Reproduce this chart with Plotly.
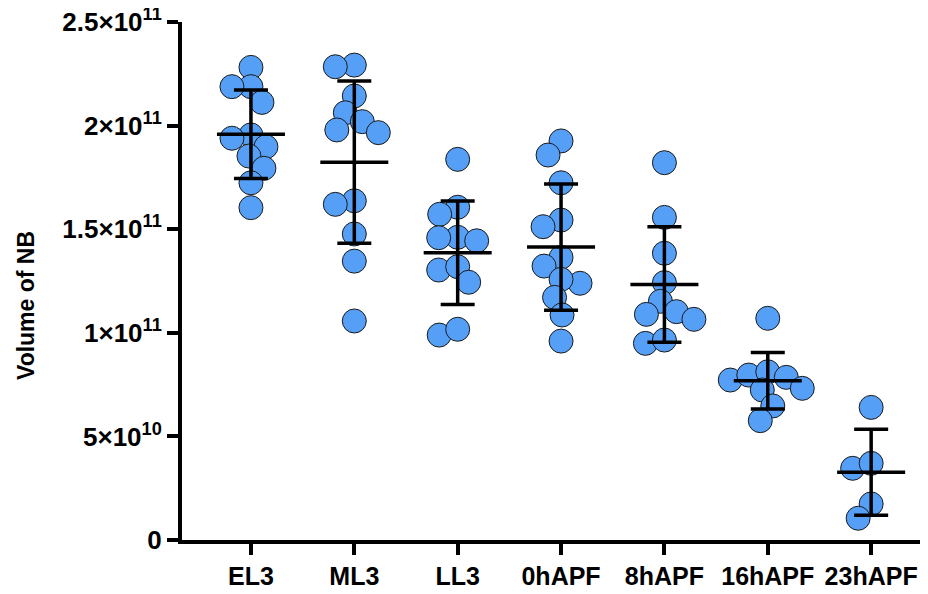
import numpy as np
import plotly.graph_objects as go

# ---------------- data ----------------
categories = ["EL3", "ML3", "LL3", "0hAPF", "8hAPF", "16hAPF", "23hAPF"]

el3 = [2.281e11, 2.188e11, 2.188e11, 2.112e11, 1.955e11, 1.939e11,
       1.898e11, 1.853e11, 1.794e11, 1.724e11, 1.604e11]
ml3 = [2.292e11, 2.284e11, 2.143e11, 2.062e11, 2.019e11, 1.966e11,
       1.979e11, 1.637e11, 1.620e11, 1.477e11, 1.346e11, 1.057e11]
ll3 = [1.837e11, 1.606e11, 1.572e11, 1.461e11, 1.444e11, 1.459e11,
       1.303e11, 1.319e11, 1.244e11, 0.989e11, 1.017e11]
h0 = [1.926e11, 1.858e11, 1.724e11, 1.544e11, 1.512e11, 1.364e11,
      1.322e11, 1.239e11, 1.258e11, 1.171e11, 1.086e11, 0.960e11]
h8 = [1.821e11, 1.557e11, 1.384e11, 1.242e11, 1.152e11, 1.089e11,
      1.102e11, 1.065e11, 0.949e11, 0.965e11]
h16 = [1.070e11, 0.772e11, 0.796e11, 0.812e11, 0.785e11, 0.724e11,
       0.732e11, 0.647e11, 0.576e11]
h23 = [0.640e11, 0.346e11, 0.370e11, 0.174e11, 0.105e11]

y_tickvals = [0, 5e10, 1e11, 1.5e11, 2e11, 2.5e11]
y_ticktext = ["0", "5×10<sup>10</sup>", "1×10<sup>11</sup>",
              "1.5×10<sup>11</sup>", "2×10<sup>11</sup>", "2.5×10<sup>11</sup>"]
y_title = "Volume of NB"

groups = [el3, ml3, ll3, h0, h8, h16, h23]

# ---------------- layout / style ----------------
# the page body adds an 8px offset, so the figure is drawn 8px smaller
W, H = 920, 586
M = dict(l=174, r=0, t=14, b=54)
x_range = [-0.667, 6.55]
y_range = [0, 2.5e11]
marker_d = 24
min_dist = 19          # px, allowed centre distance in the swarm
mean_half = 34         # px
cap_half = 17          # px
lw = 3.5
fill = "#559FF7"
font_fam = "Liberation Sans, Arial, sans-serif"
title_px = (18, 298)   # centre of the y title in figure pixels

plot_w = W - M["l"] - M["r"]
plot_h = H - M["t"] - M["b"]
px_x = plot_w / (x_range[1] - x_range[0])
px_y = plot_h / (y_range[1] - y_range[0])


def beeswarm(vals):
    vals = np.asarray(vals, dtype=float)
    order = np.argsort(-vals)
    steps = np.arange(0, 80, 0.5)
    cands = sorted(set(list(steps) + list(-steps)), key=lambda c: (abs(c), c))
    placed = []
    offs = np.zeros(len(vals))
    for idx in order:
        yy = vals[idx] * px_y
        chosen = 0.0
        for c in cands:
            if all((c - px) ** 2 + (yy - py) ** 2 >= min_dist ** 2 for px, py in placed):
                chosen = c
                break
        placed.append((chosen, yy))
        offs[idx] = chosen / px_x
    return offs


fig = go.Figure()

# points
xs, ys = [], []
for i, g in enumerate(groups):
    offs = beeswarm(g)
    xs.extend(list(i + offs))
    ys.extend(g)
fig.add_trace(go.Scatter(
    x=xs, y=ys, mode="markers",
    marker=dict(size=marker_d, color=fill, line=dict(color="#1a1a1a", width=1)),
    hoverinfo="y", showlegend=False, cliponaxis=False))

# mean ± SD
means = [float(np.mean(g)) for g in groups]
sds = [float(np.std(g, ddof=1)) for g in groups]

mx, my = [], []
for i, m in enumerate(means):
    mx += [i - mean_half / px_x, i + mean_half / px_x, None]
    my += [m, m, None]
fig.add_trace(go.Scatter(x=mx, y=my, mode="lines",
                         line=dict(color="black", width=lw),
                         hoverinfo="skip", showlegend=False, cliponaxis=False))
fig.add_trace(go.Scatter(
    x=list(range(len(groups))), y=means, mode="markers",
    marker=dict(size=1, color="rgba(0,0,0,0)"),
    error_y=dict(type="data", array=sds, visible=True, color="black",
                 thickness=lw, width=cap_half),
    hoverinfo="skip", showlegend=False, cliponaxis=False))

fig.update_layout(
    width=W, height=H, margin=M,
    paper_bgcolor="white", plot_bgcolor="white",
    font=dict(family=font_fam, color="black"),
    xaxis=dict(range=x_range, tickvals=list(range(len(categories))),
               ticktext=categories, showgrid=False, zeroline=False,
               automargin=False, ticklabeloverflow="allow",
               showline=True, linecolor="black", linewidth=4,
               ticks="outside", ticklen=11, tickwidth=4, tickcolor="black",
               tickfont=dict(family=font_fam, size=25, weight="bold", color="black")),
    yaxis=dict(range=y_range, tickvals=y_tickvals, ticktext=y_ticktext,
               showgrid=False, zeroline=False, automargin=False,
               ticklabeloverflow="allow",
               showline=True, linecolor="black", linewidth=4,
               ticks="outside", ticklen=11, tickwidth=4, tickcolor="black",
               tickfont=dict(family=font_fam, size=26, weight="bold", color="black")),
    annotations=[dict(
        text=y_title, textangle=-90, showarrow=False,
        xref="paper", yref="paper",
        x=(title_px[0] - M["l"]) / plot_w,
        y=1 - (title_px[1] - M["t"]) / plot_h,
        xanchor="center", yanchor="middle",
        font=dict(family=font_fam, size=23, weight="bold", color="black"))],
)

fig.write_html("out.html")
